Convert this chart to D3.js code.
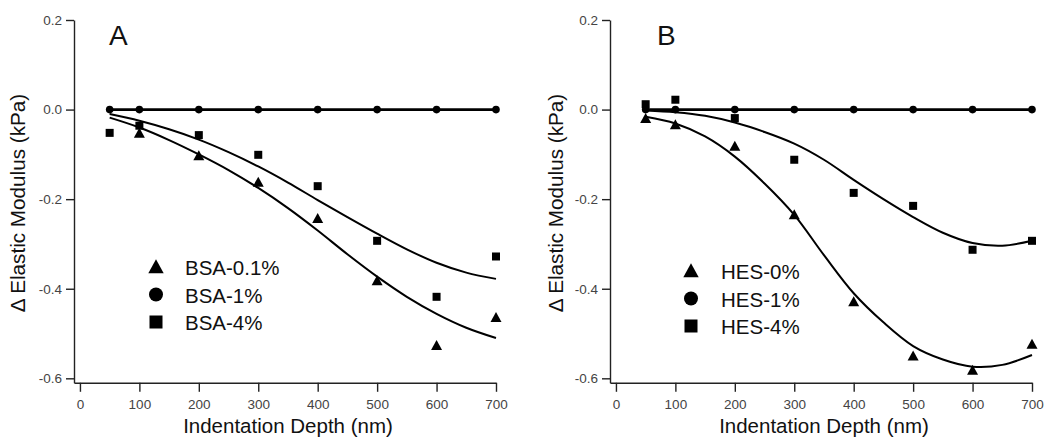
<!DOCTYPE html>
<html>
<head>
<meta charset="utf-8">
<script src="https://cdn.jsdelivr.net/npm/d3@7"></script>
<style>
  html, body { margin: 0; padding: 0; background: #fff; }
  svg { display: block; }
</style>
</head>
<body>
<svg id="chart" width="1050" height="438"></svg>
<script>
// ---------------- data ----------------
const depths = [50, 100, 200, 300, 400, 500, 600, 700];
const xTicks = [0, 100, 200, 300, 400, 500, 600, 700];
const yTicks = [0.2, 0.0, -0.2, -0.4, -0.6];

// Panel A
const bsa01 = [null, -0.053, -0.103, -0.162, -0.243, -0.382, -0.527, -0.464];
const bsa1  = [0, 0, 0, 0, 0, 0, 0, 0];
const bsa4  = [-0.052, -0.036, -0.057, -0.101, -0.171, -0.293, -0.418, -0.328];

// Panel B
const hes0 = [-0.020, -0.034, -0.082, -0.235, -0.429, -0.550, -0.582, -0.524];
const hes1 = [0, 0, 0, 0, 0, 0, 0, 0];
const hes4 = [0.012, 0.022, -0.019, -0.112, -0.186, -0.215, -0.313, -0.293];

// fitted curves
const fitDepths = [50, 100, 150, 200, 250, 300, 350, 400, 450, 500, 550, 600, 650, 700];
const fitBsa01 = [-0.018, -0.040, -0.068, -0.100, -0.135, -0.175, -0.220, -0.270, -0.323, -0.373, -0.418, -0.456, -0.487, -0.510];
const fitBsa4  = [-0.010, -0.025, -0.044, -0.067, -0.095, -0.127, -0.163, -0.202, -0.240, -0.277, -0.312, -0.342, -0.364, -0.378];
const fitHes0  = [-0.016, -0.031, -0.060, -0.105, -0.165, -0.235, -0.325, -0.410, -0.475, -0.528, -0.558, -0.574, -0.570, -0.548];
const fitHes4  = [-0.002, -0.006, -0.014, -0.029, -0.050, -0.076, -0.112, -0.157, -0.200, -0.240, -0.275, -0.298, -0.304, -0.293];

const labelsA = ["BSA-0.1%", "BSA-1%", "BSA-4%"];
const labelsB = ["HES-0%", "HES-1%", "HES-4%"];

// ---------------- drawing ----------------
const svg = d3.select("#chart");
const FONT = "'Liberation Sans', Arial, Helvetica, sans-serif";

const triPath = (s) => `M0,${-s*0.55}L${s*0.55},${s*0.45}L${-s*0.55},${s*0.45}Z`;
const fmtY = d => d3.format(".1f")(d).replace("\u2212", "-");

function panel(opt) {
  const x = d3.scaleLinear().domain([-10, 700]).range([opt.x0, opt.x1]);
  const y = d3.scaleLinear().domain([0.2, -0.61]).range([20, 382.8]);
  const g = svg.append("g");

  // axes
  const ax = g.append("g").attr("transform", `translate(0,${y(-0.61)})`)
    .call(d3.axisBottom(x).tickValues(xTicks).tickSize(9).tickSizeOuter(0).tickPadding(8));
  const ay = g.append("g").attr("transform", `translate(${x(-10)},0)`)
    .call(d3.axisLeft(y).tickValues(yTicks).tickFormat(fmtY).tickSize(8).tickSizeOuter(0).tickPadding(4));
  [ax, ay].forEach(a => {
    a.select(".domain").attr("stroke", "#222").attr("stroke-width", 1.4);
    a.selectAll(".tick line").attr("stroke", "#222").attr("stroke-width", 1.4);
    a.selectAll(".tick text").attr("fill", "#444").attr("font-family", FONT).attr("font-size", 13.5);
  });

  // axis titles
  g.append("text").attr("x", (x(0) + x(700)) / 2).attr("y", 433)
    .attr("text-anchor", "middle").attr("font-family", FONT).attr("font-size", 20.5)
    .attr("fill", "#111").text("Indentation Depth (nm)");
  g.append("text").attr("transform", `translate(${opt.yt},203) rotate(-90)`)
    .attr("text-anchor", "middle").attr("font-family", FONT).attr("font-size", 20.7)
    .attr("fill", "#111").text("\u0394 Elastic Modulus (kPa)");

  // panel letter
  g.append("text").attr("x", opt.lx).attr("y", 45).attr("font-family", FONT)
    .attr("font-size", 28).attr("fill", "#111").text(opt.letter);

  const line = d3.line().x(d => x(d[0])).y(d => y(d[1])).curve(d3.curveCatmullRom);

  // zero line (1% series)
  g.append("path").datum(depths.map((d, i) => [d, opt.s1[i]]))
    .attr("d", d3.line().x(d => x(d[0])).y(d => y(d[1])))
    .attr("fill", "none").attr("stroke", "#000").attr("stroke-width", 2.6);

  // fits
  [opt.fitTri, opt.fitSq].forEach(f => {
    g.append("path").datum(fitDepths.map((d, i) => [d, f[i]]))
      .attr("d", line).attr("fill", "none").attr("stroke", "#000").attr("stroke-width", 2);
  });

  // markers
  const tri = depths.map((d, i) => [d, opt.sTri[i]]).filter(d => d[1] !== null);
  g.selectAll(".tri").data(tri).enter().append("path")
    .attr("transform", d => `translate(${x(d[0])},${y(d[1])})`)
    .attr("d", triPath(10)).attr("fill", "#000");
  g.selectAll(".cir").data(depths.map((d, i) => [d, opt.s1[i]])).enter().append("circle")
    .attr("cx", d => x(d[0])).attr("cy", d => y(d[1])).attr("r", 3.8).attr("fill", "#000");
  g.selectAll(".sq").data(depths.map((d, i) => [d, opt.sSq[i]]).filter(d => d[1] !== null)).enter().append("rect")
    .attr("x", d => x(d[0]) - 4).attr("y", d => y(d[1]) - 4).attr("width", 8).attr("height", 8).attr("fill", "#000");

  // legend
  const lg = g.append("g");
  const lx = opt.legX, ly = opt.legY;
  opt.labels.forEach((t, i) => {
    const cy = ly + i * 27.5;
    if (i === 0) lg.append("path").attr("transform", `translate(${lx},${cy})`).attr("d", triPath(14)).attr("fill", "#000");
    if (i === 1) lg.append("circle").attr("cx", lx).attr("cy", cy).attr("r", 7).attr("fill", "#000");
    if (i === 2) lg.append("rect").attr("x", lx - 6.5).attr("y", cy - 6.5).attr("width", 13).attr("height", 13).attr("fill", "#000");
    lg.append("text").attr("x", opt.legTx).attr("y", cy + 8).attr("font-family", FONT)
      .attr("font-size", 20.5).attr("fill", "#111").text(t);
  });
}

panel({
  x0: 74, x1: 496, yt: 25, lx: 109, letter: "A",
  sTri: bsa01, s1: bsa1, sSq: bsa4, fitTri: fitBsa01, fitSq: fitBsa4,
  labels: labelsA, legX: 156, legY: 267, legTx: 185
});
panel({
  x0: 610, x1: 1032, yt: 563, lx: 657, letter: "B",
  sTri: hes0, s1: hes1, sSq: hes4, fitTri: fitHes0, fitSq: fitHes4,
  labels: labelsB, legX: 691, legY: 271, legTx: 721
});
</script>
</body>
</html>
